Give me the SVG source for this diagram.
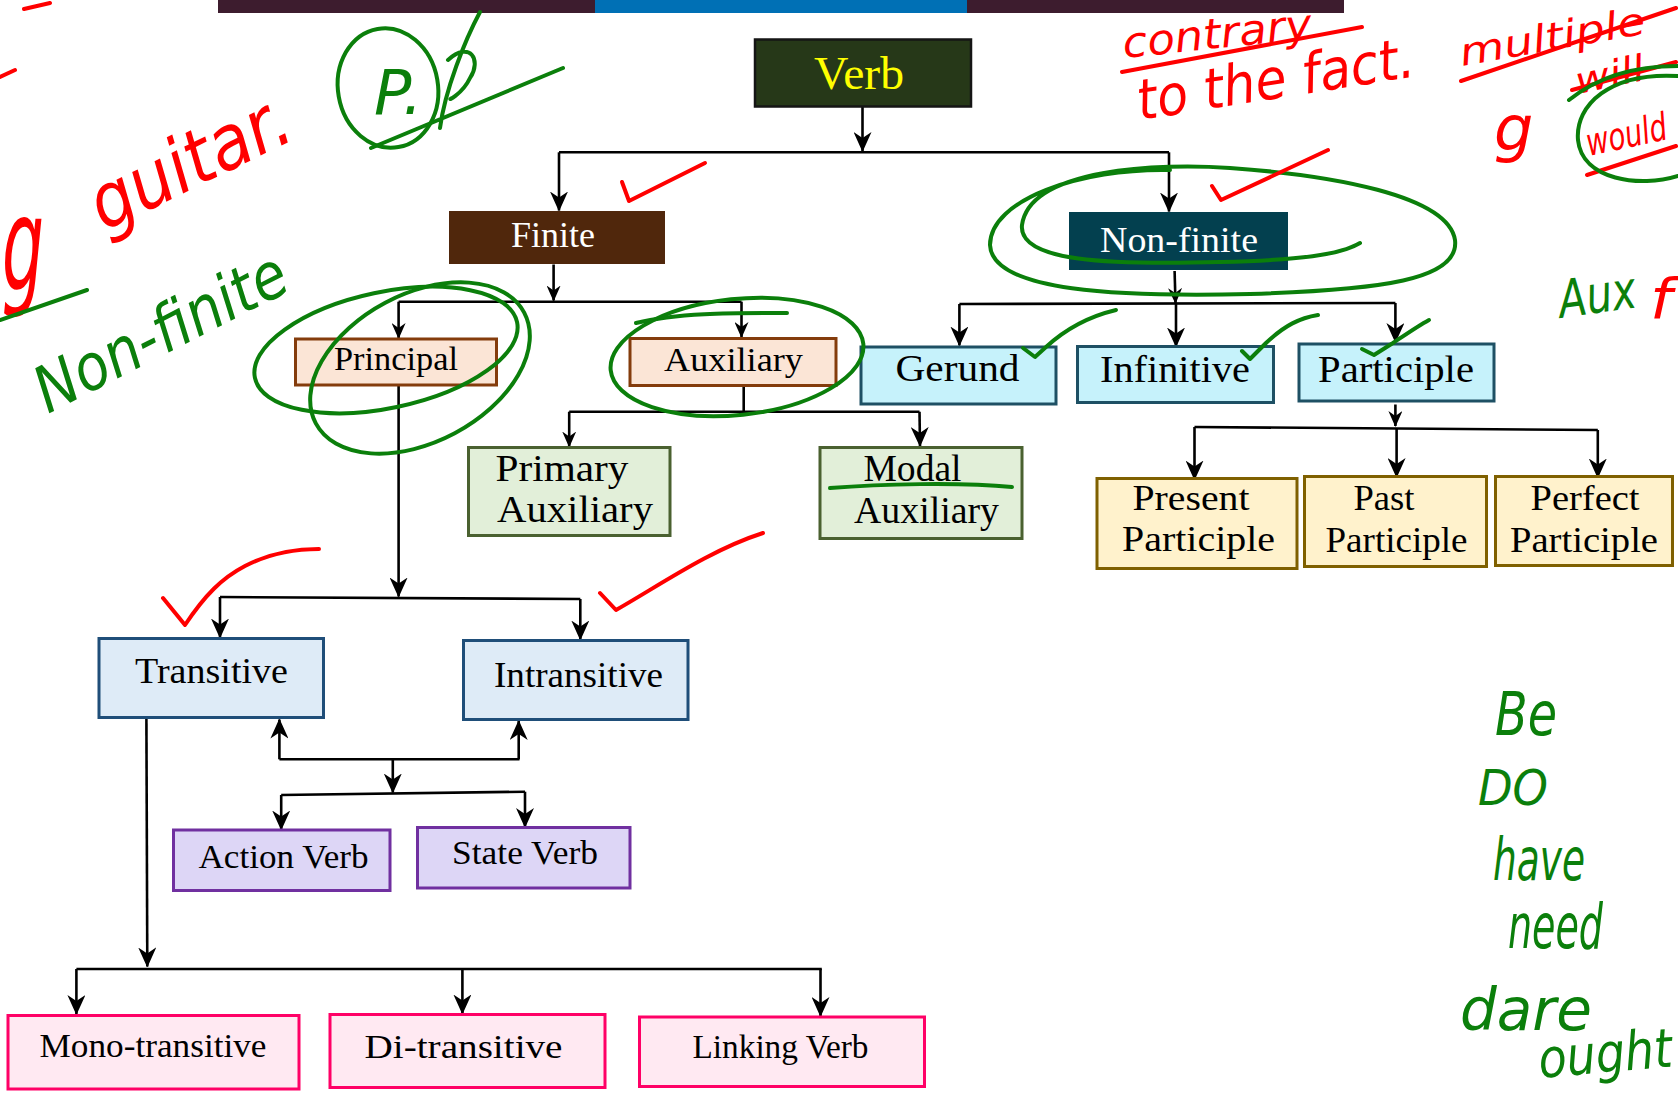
<svg xmlns="http://www.w3.org/2000/svg" width="1678" height="1096" viewBox="0 0 1678 1096">
<style>
.t{font-family:"Liberation Serif","Times New Roman",serif;fill:#000;text-anchor:middle}
.tw{font-family:"Liberation Serif","Times New Roman",serif;fill:#fff;text-anchor:middle}
.c{stroke:#000;stroke-width:2.6;fill:none}
.a{marker-end:url(#ah)}
.s{marker-end:url(#ahs)}
.pk{fill:#fbe5d6;stroke:#843c0c;stroke-width:3}
.cy{fill:#c6f2fb;stroke:#1e5064;stroke-width:3}
.gr{fill:#e2efd9;stroke:#4a6130;stroke-width:3}
.yl{fill:#fff2cc;stroke:#7f6000;stroke-width:3}
.bl{fill:#deebf7;stroke:#1f4e79;stroke-width:3}
.pu{fill:#ddd6f6;stroke:#7030a0;stroke-width:3}
.rs{fill:#ffe9f2;stroke:#ff0066;stroke-width:3}
.gs{stroke:#0b7f0b;stroke-width:4;fill:none;stroke-linecap:round;stroke-linejoin:round}
.rd{stroke:#ff0000;stroke-width:4;fill:none;stroke-linecap:round;stroke-linejoin:round}
.hg{font-family:"DejaVu Sans",sans-serif;font-style:oblique;fill:#0b7f0b}
.hr{font-family:"DejaVu Sans",sans-serif;font-style:oblique;fill:#ff0000}
</style>
<defs>
<marker id="ah" markerUnits="userSpaceOnUse" viewBox="0 0 20 18" markerWidth="20" markerHeight="18" refX="19" refY="9" orient="auto"><path d="M0,0 L20,9 L0,18 L6,9 Z" fill="#000"/></marker>
<marker id="ahs" markerUnits="userSpaceOnUse" viewBox="0 0 16 14" markerWidth="16" markerHeight="14" refX="15" refY="7" orient="auto"><path d="M0,0 L16,7 L0,14 L5,7 Z" fill="#000"/></marker>
</defs>
<rect width="1678" height="1096" fill="#fff"/>
<g id="topbar">
<rect x="218" y="0" width="377" height="13" fill="#3d1c2e"/>
<rect x="595" y="0" width="372" height="13" fill="#0070b5"/>
<rect x="967" y="0" width="377" height="13" fill="#3d1c2e"/>
</g>
<g id="connectors">
<path class="c a" d="M862.5,107 L862.5,151"/>
<path class="c" d="M559,152.3 L1169,152.3"/>
<path class="c a" d="M559,152.3 L559,210.5"/>
<path class="c a" d="M1169,152.3 L1169,211.5"/>
<path class="c s" d="M553.6,264.5 L553.6,300.5"/>
<path class="c" d="M398.6,301.7 L741.5,301.7"/>
<path class="c s" d="M398.6,301.7 L398.6,338"/>
<path class="c s" d="M741.5,301.7 L741.5,337"/>
<path class="c a" d="M398.6,385 L398.6,596.5"/>
<path class="c" d="M220,597 L580.3,599"/>
<path class="c a" d="M220,597 L220,637.5"/>
<path class="c a" d="M580.3,599 L580.3,639.5"/>
<path class="c" d="M743.7,386 L743.7,411.7"/>
<path class="c" d="M569.2,411.7 L919.5,411.7"/>
<path class="c s" d="M569.2,411.7 L569.2,446.5"/>
<path class="c a" d="M919.5,411.7 L920,446"/>
<path class="c s" d="M1174.6,271 L1175.5,303"/>
<path class="c" d="M959.4,304 L1395.4,303"/>
<path class="c a" d="M959.4,304 L959.4,345.5"/>
<path class="c a" d="M1176,304 L1176,346.5"/>
<path class="c a" d="M1395.4,303 L1395.4,342"/>
<path class="c s" d="M1395.4,404.5 L1395.4,426"/>
<path class="c" d="M1194.5,427 L1597.8,430"/>
<path class="c a" d="M1194.5,427 L1194.5,479.5"/>
<path class="c a" d="M1396.6,428.5 L1396.6,477"/>
<path class="c a" d="M1597.8,430 L1597.8,477.5"/>
<path class="c a" d="M279.4,759.3 L279.4,719.5"/>
<path class="c a" d="M518.7,759.3 L518.7,721"/>
<path class="c" d="M279.4,759.3 L519.5,759.3"/>
<path class="c a" d="M392.8,759.3 L392.8,792.5"/>
<path class="c" d="M281.2,795 L525,791.7"/>
<path class="c a" d="M281.2,795 L281.2,829.5"/>
<path class="c a" d="M525,791.7 L525,827"/>
<path class="c a" d="M146.4,718 L147.3,966.5"/>
<path class="c" d="M76.4,969 L821.8,969"/>
<path class="c a" d="M76.4,969 L76.4,1014"/>
<path class="c a" d="M462.4,969 L462.4,1013.5"/>
<path class="c a" d="M820.5,969 L820.5,1016"/>
</g>
<g id="verb"><rect x="755" y="39.5" width="216" height="67" fill="#263818" stroke="#151515" stroke-width="2.5"/><text x="859" y="89" font-size="46" textLength="90" lengthAdjust="spacingAndGlyphs" class="t" style="fill:#ffff00">Verb</text></g>
<g id="finite"><rect x="449" y="211" width="216" height="53" fill="#50270c"/><text x="553" y="247" font-size="35" textLength="84" lengthAdjust="spacingAndGlyphs" class="tw">Finite</text></g>
<g id="nonfinite"><rect x="1069" y="212" width="219" height="58" fill="#03404f"/><text x="1179" y="251.5" font-size="35" textLength="158" lengthAdjust="spacingAndGlyphs" class="tw">Non-finite</text></g>
<g id="principal"><rect x="295.5" y="339" width="201" height="46" class="pk"/><text x="396" y="369.5" font-size="34" textLength="124" lengthAdjust="spacingAndGlyphs" class="t">Principal</text></g>
<g id="auxiliary"><rect x="630" y="338.5" width="206" height="47" class="pk"/><text x="733.5" y="370.5" font-size="34" textLength="139" lengthAdjust="spacingAndGlyphs" class="t">Auxiliary</text></g>
<g id="gerund"><rect x="861" y="347" width="195" height="57" class="cy"/><text x="957.5" y="380.5" font-size="38" textLength="124" lengthAdjust="spacingAndGlyphs" class="t">Gerund</text></g>
<g id="infinitive"><rect x="1077.5" y="346.5" width="196" height="56" class="cy"/><text x="1175" y="382" font-size="38" textLength="150" lengthAdjust="spacingAndGlyphs" class="t">Infinitive</text></g>
<g id="participle"><rect x="1299" y="344" width="195" height="57" class="cy"/><text x="1396" y="382" font-size="38" textLength="156" lengthAdjust="spacingAndGlyphs" class="t">Participle</text></g>
<g id="primary"><rect x="468.5" y="447.5" width="201.5" height="88" class="gr"/><text x="562" y="480.5" font-size="37" textLength="133" lengthAdjust="spacingAndGlyphs" class="t">Primary</text><text x="575" y="522" font-size="37" textLength="156" lengthAdjust="spacingAndGlyphs" class="t">Auxiliary</text></g>
<g id="modal"><rect x="820" y="447.5" width="202" height="91" class="gr"/><text x="912.5" y="481" font-size="37" textLength="98" lengthAdjust="spacingAndGlyphs" class="t">Modal</text><text x="926.5" y="522.5" font-size="37" textLength="145" lengthAdjust="spacingAndGlyphs" class="t">Auxiliary</text></g>
<g id="present"><rect x="1097" y="478.5" width="200" height="90" class="yl"/><text x="1191" y="510" font-size="36" textLength="117" lengthAdjust="spacingAndGlyphs" class="t">Present</text><text x="1198.5" y="551" font-size="36" textLength="153" lengthAdjust="spacingAndGlyphs" class="t">Participle</text></g>
<g id="past"><rect x="1304.5" y="476.5" width="182" height="90" class="yl"/><text x="1384" y="510" font-size="36" textLength="61" lengthAdjust="spacingAndGlyphs" class="t">Past</text><text x="1396.5" y="551.5" font-size="36" textLength="142" lengthAdjust="spacingAndGlyphs" class="t">Participle</text></g>
<g id="perfect"><rect x="1495.5" y="476.5" width="177" height="89" class="yl"/><text x="1585" y="509.5" font-size="36" textLength="109" lengthAdjust="spacingAndGlyphs" class="t">Perfect</text><text x="1584" y="551.5" font-size="36" textLength="148" lengthAdjust="spacingAndGlyphs" class="t">Participle</text></g>
<g id="transitive"><rect x="99" y="638.5" width="224.5" height="79" class="bl"/><text x="211.5" y="683" font-size="36" textLength="153" lengthAdjust="spacingAndGlyphs" class="t">Transitive</text></g>
<g id="intransitive"><rect x="463.5" y="640.5" width="224.5" height="79" class="bl"/><text x="578.5" y="687" font-size="36" textLength="169" lengthAdjust="spacingAndGlyphs" class="t">Intransitive</text></g>
<g id="action"><rect x="173.5" y="830" width="216.5" height="60.5" class="pu"/><text x="283.5" y="868" font-size="34" textLength="170" lengthAdjust="spacingAndGlyphs" class="t">Action Verb</text></g>
<g id="state"><rect x="417.5" y="827.5" width="212.5" height="60.5" class="pu"/><text x="525" y="864" font-size="34" textLength="146" lengthAdjust="spacingAndGlyphs" class="t">State Verb</text></g>
<g id="mono"><rect x="8" y="1015.5" width="291" height="73.5" class="rs"/><text x="153" y="1056.5" font-size="34" textLength="227" lengthAdjust="spacingAndGlyphs" class="t">Mono-transitive</text></g>
<g id="di"><rect x="330" y="1014.5" width="275" height="73" class="rs"/><text x="463.5" y="1058" font-size="34" textLength="198" lengthAdjust="spacingAndGlyphs" class="t">Di-transitive</text></g>
<g id="linking"><rect x="639.5" y="1017" width="285" height="69.5" class="rs"/><text x="780.5" y="1058" font-size="34" textLength="176" lengthAdjust="spacingAndGlyphs" class="t">Linking Verb</text></g>
<g id="annotations">
<path class="rd" d="M24,9 L50,3 M0,77 L15,70"/>
<text class="hr" x="2" y="290" font-size="130" textLength="42" lengthAdjust="spacingAndGlyphs">g</text>
<text class="hr" x="104" y="232" font-size="76" textLength="215" lengthAdjust="spacingAndGlyphs" transform="rotate(-26 104 232)">guitar.</text>
<path class="gs" d="M0,320 L87,290"/>
<ellipse class="gs" cx="388" cy="88" rx="50" ry="60" transform="rotate(-10 388 88)"/>
<text class="hg" x="374" y="114" font-size="62">P.</text>
<path class="gs" d="M440,128 C445,90 465,40 480,12 M448,60 C470,40 482,60 470,78 C462,95 445,102 452,98 M371,148 L563,68"/>
<path class="rd" d="M622,182 L629,201 L705,163"/>
<text class="hg" x="48" y="414" font-size="64" textLength="275" lengthAdjust="spacingAndGlyphs" transform="rotate(-27 48 414)">Non-finite</text>
<ellipse class="gs" cx="386" cy="350" rx="134" ry="58" transform="rotate(-12 386 350)"/>
<ellipse class="gs" cx="420" cy="368" rx="118" ry="74" transform="rotate(-28 420 368)"/>
<ellipse class="gs" cx="737" cy="357" rx="127" ry="58" transform="rotate(-6 737 357)"/>
<path class="gs" d="M636,323 C680,312 740,313 787,313"/>
<path class="gs" d="M1170,170 C1080,168 990,200 990,245 C992,292 1120,297 1250,294 C1380,290 1460,280 1455,240 C1448,195 1330,175 1230,168 C1160,163 1030,168 1022,225 C1018,262 1110,265 1220,262 C1300,260 1340,255 1360,243"/>
<path class="rd" d="M1212,186 L1221,200 L1328,150"/>
<path class="gs" d="M1023,348 L1035,357 L1046,347 C1070,325 1095,315 1116,310"/>
<path class="gs" d="M1242,351 L1250,359 L1266,343 C1285,325 1300,318 1318,315"/>
<path class="gs" d="M1362,349 L1374,355 L1393,343 C1405,335 1418,326 1429,320"/>
<path class="rd" d="M163,598 L185,625 C205,595 222,578 245,566 C270,553 295,549 319,549"/>
<path class="rd" d="M600,593 L616,610 C660,585 710,550 763,533"/>
<path class="gs" d="M830,488 C880,484 960,482 1012,487"/>
<text class="hr" x="1124" y="58" font-size="42" textLength="190" lengthAdjust="spacingAndGlyphs" transform="rotate(-6 1124 58)">contrary</text>
<path class="rd" d="M1122,72 L1362,27"/>
<text class="hr" x="1140" y="120" font-size="56" textLength="280" lengthAdjust="spacingAndGlyphs" transform="rotate(-9 1140 120)">to the fact.</text>
<text class="hr" x="1462" y="66" font-size="38" textLength="188" lengthAdjust="spacingAndGlyphs" transform="rotate(-10 1462 66)">multiple</text>
<path class="rd" d="M1461,81 L1676,8"/>
<text class="hr" x="1578" y="94" font-size="36" textLength="70" lengthAdjust="spacingAndGlyphs" transform="rotate(-12 1578 94)">will</text>
<path class="rd" d="M1572,90 L1676,62"/>
<text class="hr" x="1494" y="150" font-size="62">g</text>
<text class="hr" x="1589" y="156" font-size="38" textLength="82" lengthAdjust="spacingAndGlyphs" transform="rotate(-12 1589 156)">would</text>
<path class="rd" d="M1587,175 L1676,146"/>
<path class="gs" d="M1569,100 C1600,75 1640,66 1678,66 M1678,76 C1610,72 1575,105 1578,140 C1582,180 1640,188 1678,176"/>
<text class="hg" x="1561" y="318" font-size="52" textLength="78" lengthAdjust="spacingAndGlyphs" transform="rotate(-8 1561 318)">Aux</text>
<text class="hr" x="1650" y="318" font-size="56" textLength="22" lengthAdjust="spacingAndGlyphs">f</text>
<text class="hg" x="1495" y="735" font-size="60" textLength="62" lengthAdjust="spacingAndGlyphs">Be</text>
<text class="hg" x="1478" y="805" font-size="50" textLength="70" lengthAdjust="spacingAndGlyphs">DO</text>
<text class="hg" x="1493" y="880" font-size="58" textLength="92" lengthAdjust="spacingAndGlyphs">have</text>
<text class="hg" x="1508" y="948" font-size="62" textLength="95" lengthAdjust="spacingAndGlyphs">need</text>
<text class="hg" x="1460" y="1030" font-size="58">dare</text>
<text class="hg" x="1540" y="1078" font-size="54" textLength="134" lengthAdjust="spacingAndGlyphs" transform="rotate(-5 1540 1078)">ought</text>
</g>
</svg>
